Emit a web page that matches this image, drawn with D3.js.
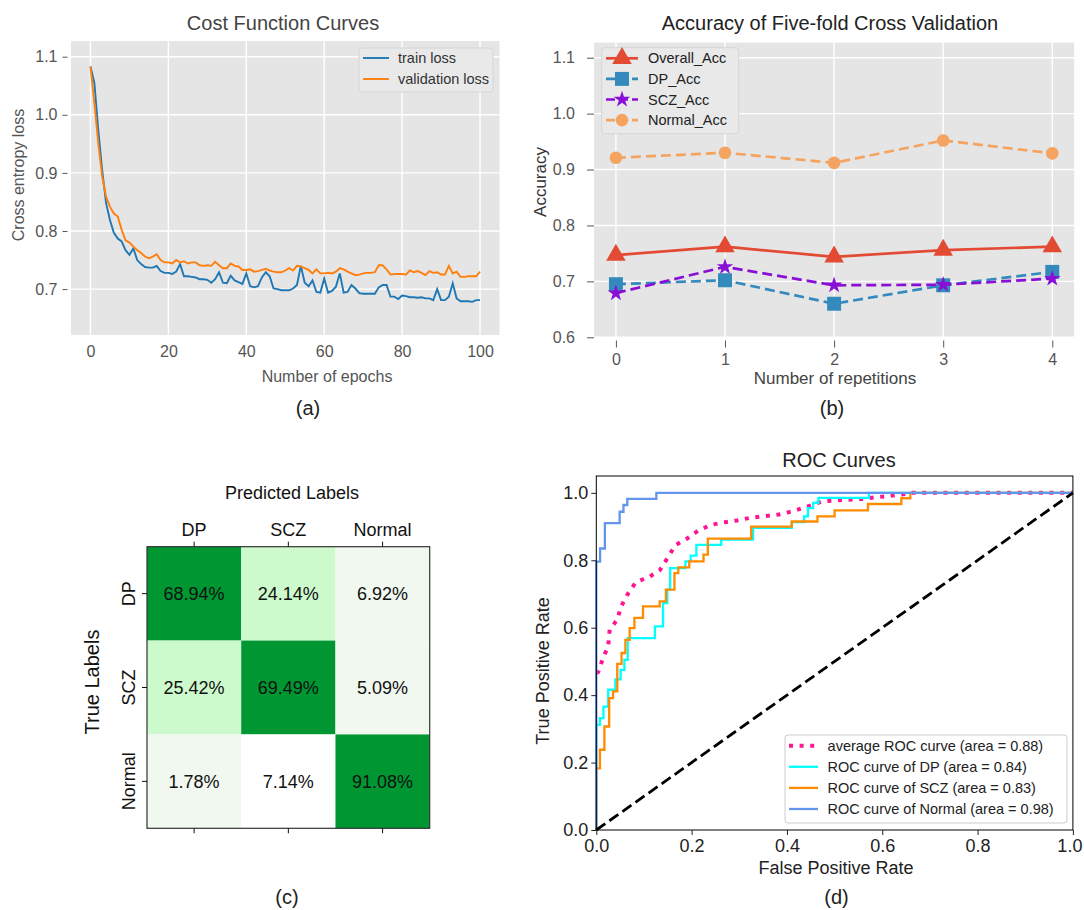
<!DOCTYPE html>
<html>
<head>
<meta charset="utf-8">
<script src="https://cdn.jsdelivr.net/npm/d3@7"></script>
<style>
  body { margin: 0; background: #fff; }
  svg text { font-family: "Liberation Sans", Arial, sans-serif; }
</style>
</head>
<body>
<svg id="fig" width="1084" height="910"></svg>
<script>
// ---------- data: (a) cost function curves
const epochTicks = [0, 20, 40, 60, 80, 100];
const lossTicks = [0.7, 0.8, 0.9, 1.0, 1.1];
const trainLoss = [
  1.083, 1.055, 0.974, 0.905, 0.848, 0.819, 0.797, 0.787, 0.782, 0.767,
  0.759, 0.770, 0.750, 0.743, 0.738, 0.737, 0.737, 0.740, 0.731, 0.728,
  0.728, 0.726, 0.730, 0.743, 0.722, 0.722, 0.721, 0.720, 0.717, 0.717,
  0.716, 0.711, 0.717, 0.729, 0.711, 0.710, 0.723, 0.715, 0.712, 0.709,
  0.727, 0.705, 0.703, 0.705, 0.720, 0.729, 0.722, 0.701, 0.700, 0.698,
  0.698, 0.698, 0.701, 0.707, 0.740, 0.711, 0.705, 0.715, 0.695, 0.694,
  0.718, 0.694, 0.697, 0.704, 0.727, 0.694, 0.695, 0.707, 0.701, 0.693,
  0.692, 0.692, 0.692, 0.692, 0.703, 0.707, 0.707, 0.687, 0.687, 0.683,
  0.689, 0.688, 0.686, 0.686, 0.685, 0.686, 0.684, 0.684, 0.681, 0.700,
  0.681, 0.681, 0.687, 0.710, 0.684, 0.679, 0.679, 0.679, 0.678, 0.681,
  0.681
];
const valLoss = [
  1.083, 1.020, 0.951, 0.894, 0.859, 0.842, 0.830, 0.825, 0.802, 0.784,
  0.780, 0.773, 0.767, 0.762, 0.756, 0.753, 0.756, 0.760, 0.750, 0.746,
  0.746, 0.744, 0.750, 0.746, 0.748, 0.744, 0.746, 0.746, 0.741, 0.740,
  0.741, 0.740, 0.747, 0.741, 0.736, 0.736, 0.744, 0.740, 0.739, 0.733,
  0.733, 0.734, 0.730, 0.731, 0.733, 0.735, 0.732, 0.730, 0.729, 0.729,
  0.732, 0.736, 0.732, 0.740, 0.739, 0.736, 0.733, 0.727, 0.734, 0.727,
  0.727, 0.728, 0.727, 0.730, 0.736, 0.734, 0.730, 0.727, 0.724, 0.725,
  0.727, 0.728, 0.728, 0.729, 0.741, 0.741, 0.734, 0.725, 0.726, 0.726,
  0.726, 0.725, 0.732, 0.729, 0.731, 0.728, 0.724, 0.731, 0.728, 0.729,
  0.725, 0.725, 0.740, 0.727, 0.730, 0.721, 0.721, 0.722, 0.722, 0.722,
  0.730
];

// ---------- data: (b) five-fold accuracy
const reps = [0, 1, 2, 3, 4];
const accTicks = [0.6, 0.7, 0.8, 0.9, 1.0, 1.1];
const overallAcc = [0.747, 0.762, 0.744, 0.756, 0.762];
const dpAcc = [0.695, 0.702, 0.660, 0.693, 0.717];
const sczAcc = [0.679, 0.726, 0.693, 0.694, 0.705];
const normalAcc = [0.921, 0.930, 0.912, 0.952, 0.929];

// ---------- data: (c) confusion matrix (rows = true, cols = predicted)
const cmLabels = ["DP", "SCZ", "Normal"];
const cmValues = [
  [68.94, 24.14, 6.92],
  [25.42, 69.49, 5.09],
  [1.78, 7.14, 91.08]
];

// ---------- data: (d) ROC curves
const rateTicks = [0, 0.2, 0.4, 0.6, 0.8, 1.0];
const avgFpr = [0, 0.004, 0.014, 0.025, 0.028, 0.044, 0.052, 0.066, 0.083, 0.11, 0.133, 0.15, 0.166, 0.19, 0.213, 0.24, 0.27, 0.295, 0.323, 0.383, 0.414, 0.444, 0.474, 0.557, 0.64, 0.663, 1];
const avgTpr = [0.465, 0.469, 0.509, 0.546, 0.594, 0.624, 0.663, 0.700, 0.735, 0.750, 0.770, 0.808, 0.845, 0.864, 0.887, 0.905, 0.913, 0.918, 0.926, 0.936, 0.946, 0.960, 0.975, 0.982, 0.995, 1.0, 1.0];
const dpFpr = [0, 0, 0.0076, 0.015, 0.025, 0.04, 0.051, 0.059, 0.066, 0.123, 0.14, 0.149, 0.155, 0.187, 0.198, 0.21, 0.262, 0.329, 0.41, 0.436, 0.444, 0.455, 0.466, 0.572, 1];
const dpTpr = [0, 0.312, 0.332, 0.366, 0.416, 0.447, 0.475, 0.505, 0.569, 0.604, 0.673, 0.713, 0.777, 0.797, 0.814, 0.846, 0.861, 0.896, 0.913, 0.93, 0.955, 0.97, 0.985, 1.0, 1.0];
const sczFpr = [0, 0, 0.0076, 0.017, 0.027, 0.035, 0.044, 0.053, 0.061, 0.07, 0.08, 0.098, 0.133, 0.146, 0.164, 0.172, 0.195, 0.225, 0.234, 0.325, 0.41, 0.464, 0.5, 0.57, 0.64, 0.659, 1];
const sczTpr = [0, 0.183, 0.238, 0.307, 0.391, 0.411, 0.493, 0.525, 0.564, 0.599, 0.629, 0.663, 0.678, 0.713, 0.762, 0.779, 0.797, 0.817, 0.864, 0.9, 0.915, 0.93, 0.948, 0.967, 0.984, 1.0, 1.0];
const normalFpr = [0, 0, 0.008, 0.018, 0.049, 0.057, 0.065, 0.126, 1];
const normalTpr = [0, 0.796, 0.835, 0.91, 0.944, 0.964, 0.982, 1.0, 1.0];

const svg = d3.select("#fig");

// grey ggplot-like panel with white grid
function ggPanel(g, x, y, xTicks, yTicks) {
  const [x0, x1] = x.range();
  const [y0, y1] = y.range();
  g.append("rect")
    .attr("x", x0).attr("y", y1)
    .attr("width", x1 - x0).attr("height", y0 - y1)
    .attr("fill", "#E5E5E5");
  g.selectAll(".vgrid").data(xTicks).enter().append("line")
    .attr("x1", d => x(d)).attr("x2", d => x(d))
    .attr("y1", y1).attr("y2", y0)
    .attr("stroke", "#fff").attr("stroke-width", 1.4);
  g.selectAll(".hgrid").data(yTicks).enter().append("line")
    .attr("x1", x0).attr("x2", x1)
    .attr("y1", d => y(d)).attr("y2", d => y(d))
    .attr("stroke", "#fff").attr("stroke-width", 1.4);
}

function styleAxis(sel, color, size) {
  sel.select(".domain").remove();
  sel.selectAll(".tick line").attr("stroke", color);
  sel.selectAll(".tick text")
    .attr("fill", color)
    .style("font-size", size + "px")
    .style("font-family", '"Liberation Sans", Arial, sans-serif');
}

function label(g, text, x, y, size, color, rotate) {
  return g.append("text")
    .attr("transform", `translate(${x},${y})` + (rotate ? " rotate(-90)" : ""))
    .attr("text-anchor", "middle")
    .attr("dy", "0.35em")
    .style("font-size", size + "px")
    .attr("fill", color)
    .text(text);
}

// ================= (a)
const xA = d3.scaleLinear().domain([-5, 105]).range([71, 499.5]);
const yA = d3.scaleLinear().domain([0.621, 1.127]).range([335, 41]);
const gA = svg.append("g");
ggPanel(gA, xA, yA, epochTicks, lossTicks);

const lineA = d3.line().x((d, i) => xA(i)).y(d => yA(d));
gA.append("path").datum(trainLoss).attr("d", lineA)
  .attr("fill", "none").attr("stroke", "#1f77b4").attr("stroke-width", 1.9);
gA.append("path").datum(valLoss).attr("d", lineA)
  .attr("fill", "none").attr("stroke", "#ff7f0e").attr("stroke-width", 1.9);

gA.append("g").attr("transform", "translate(67.5,0)")
  .call(d3.axisLeft(yA).tickValues(lossTicks).tickSize(5).tickPadding(5).tickFormat(d3.format(".1f")))
  .call(a => styleAxis(a, "#555", 16));
gA.append("g").attr("transform", "translate(0,335)")
  .call(d3.axisBottom(xA).tickValues(epochTicks).tickSize(0).tickPadding(11).tickFormat(d3.format("d")))
  .call(a => styleAxis(a, "#555", 16));

label(gA, "Cost Function Curves", 283, 23, 20, "#444");
label(gA, "Number of epochs", 327, 376, 16, "#555");
label(gA, "Cross entropy loss", 18, 175, 16, "#555", true);
label(gA, "(a)", 308, 408, 20, "#222");

const legA = gA.append("g");
legA.append("rect").attr("x", 359).attr("y", 48).attr("width", 134).attr("height", 44)
  .attr("rx", 3).attr("fill", "#E9E9E9").attr("stroke", "#D6D6D6");
[["train loss", "#1f77b4"], ["validation loss", "#ff7f0e"]].forEach(([name, c], i) => {
  const yy = 58 + i * 21;
  legA.append("line").attr("x1", 363).attr("x2", 389).attr("y1", yy).attr("y2", yy)
    .attr("stroke", c).attr("stroke-width", 1.9);
  legA.append("text").attr("x", 398).attr("y", yy).attr("dy", "0.35em")
    .style("font-size", "14.5px").attr("fill", "#333").text(name);
});

// ================= (b)
const xB = d3.scaleLinear().domain([-0.2, 4.2]).range([594.1, 1074.1]);
const yB = d3.scaleLinear().domain([0.6, 1.127]).range([337.3, 42.6]);
const gB = svg.append("g");
ggPanel(gB, xB, yB, reps, accTicks);

const accSeries = [
  { name: "Overall_Acc", values: overallAcc, color: "#E24A33", dash: null, sym: d3.symbolTriangle, size: 165 },
  { name: "DP_Acc", values: dpAcc, color: "#348ABD", dash: "10,5", sym: d3.symbolSquare, size: 195 },
  { name: "SCZ_Acc", values: sczAcc, color: "#8A0FD6", dash: "10,5", sym: d3.symbolStar, size: 85 },
  { name: "Normal_Acc", values: normalAcc, color: "#F4A460", dash: "10,5", sym: d3.symbolCircle, size: 125 }
];
const lineB = d3.line().x((d, i) => xB(reps[i])).y(d => yB(d));
accSeries.forEach(s => {
  gB.append("path").datum(s.values).attr("d", lineB)
    .attr("fill", "none").attr("stroke", s.color).attr("stroke-width", 2.7)
    .attr("stroke-dasharray", s.dash);
  gB.selectAll(null).data(s.values).enter().append("path")
    .attr("d", d3.symbol().type(s.sym).size(s.size))
    .attr("transform", (d, i) => `translate(${xB(reps[i])},${yB(d)})`)
    .attr("fill", s.color);
});

gB.append("g").attr("transform", "translate(594,0)")
  .call(d3.axisLeft(yB).tickValues(accTicks).tickSize(7).tickPadding(12).tickFormat(d3.format(".1f")))
  .call(a => styleAxis(a, "#555", 16));
gB.append("g").attr("transform", "translate(0,340.5)")
  .call(d3.axisBottom(xB).tickValues(reps).tickSize(7).tickPadding(6).tickFormat(d3.format("d")))
  .call(a => styleAxis(a, "#555", 16));

label(gB, "Accuracy of Five-fold Cross Validation", 830, 23, 20, "#222");
label(gB, "Number of repetitions", 835, 378, 17, "#444");
label(gB, "Accuracy", 540, 182, 17, "#333", true);
label(gB, "(b)", 832, 408, 20, "#222");

const legB = gB.append("g");
legB.append("rect").attr("x", 601.7).attr("y", 47.7).attr("width", 137).attr("height", 86)
  .attr("rx", 3).attr("fill", "#E9E9E9").attr("stroke", "#D6D6D6");
accSeries.forEach((s, i) => {
  const yy = 58.3 + i * 20.6;
  legB.append("line").attr("x1", 606).attr("x2", 638).attr("y1", yy).attr("y2", yy)
    .attr("stroke", s.color).attr("stroke-width", 2.7).attr("stroke-dasharray", s.dash ? "9,4" : null);
  legB.append("path").attr("d", d3.symbol().type(s.sym).size(s.size))
    .attr("transform", `translate(622,${yy})`).attr("fill", s.color);
  legB.append("text").attr("x", 648).attr("y", yy).attr("dy", "0.35em")
    .style("font-size", "14.5px").attr("fill", "#222").text(s.name);
});

// ================= (c)
const xC = d3.scaleBand().domain(cmLabels).range([147, 429.7]);
const yC = d3.scaleBand().domain(cmLabels).range([546.7, 828.3]);
const cmColor = d3.scaleThreshold().domain([7, 20, 50])
  .range(["#F0F8EF", "#FFFFFF", "#CDFACC", "#009632"]);
const gC = svg.append("g");
const cells = cmValues.flatMap((row, r) => row.map((v, c) => ({ r: cmLabels[r], c: cmLabels[c], v })));
gC.selectAll(".cell").data(cells).enter().append("rect")
  .attr("x", d => xC(d.c)).attr("y", d => yC(d.r))
  .attr("width", xC.bandwidth()).attr("height", yC.bandwidth())
  .attr("fill", d => cmColor(d.v));
gC.selectAll(".val").data(cells).enter().append("text")
  .attr("x", d => xC(d.c) + xC.bandwidth() / 2)
  .attr("y", d => yC(d.r) + yC.bandwidth() / 2)
  .attr("dy", "0.35em").attr("text-anchor", "middle")
  .style("font-size", "18px").attr("fill", "#111")
  .text(d => d.v.toFixed(2) + "%");
gC.append("rect").attr("x", 147).attr("y", 546.7).attr("width", 282.7).attr("height", 281.6)
  .attr("fill", "none").attr("stroke", "#333").attr("stroke-width", 1.2);

gC.append("g").attr("transform", "translate(0,546.7)")
  .call(d3.axisTop(xC).tickSize(5).tickPadding(6))
  .call(a => styleAxis(a, "#111", 18));
gC.append("g").attr("transform", "translate(0,828.3)")
  .call(d3.axisBottom(xC).tickSize(5).tickFormat(""))
  .call(a => styleAxis(a, "#111", 18));
gC.append("g").attr("transform", "translate(147,0)")
  .call(d3.axisLeft(yC).tickSize(5).tickFormat(""))
  .call(a => styleAxis(a, "#111", 18));
cmLabels.forEach(l => label(gC, l, 128.5, yC(l) + yC.bandwidth() / 2, 18, "#111", true));

label(gC, "Predicted Labels", 292, 493, 18, "#111");
label(gC, "True Labels", 92, 682, 20, "#111", true);
label(gC, "(c)", 287, 897, 20, "#222");

// ================= (d)
const xD = d3.scaleLinear().domain([0, 1]).range([596.3, 1072.9]);
const yD = d3.scaleLinear().domain([0, 1.05]).range([830, 476]);
const gD = svg.append("g");
const pairs = (xs, ys) => xs.map((v, i) => [v, ys[i]]);
const rocLine = d3.line().x(d => xD(d[0])).y(d => yD(d[1]));
const rocStep = d3.line().x(d => xD(d[0])).y(d => yD(d[1])).curve(d3.curveStepAfter);

const rocSeries = [
  { name: "average ROC curve (area = 0.88)", pts: pairs(avgFpr, avgTpr), gen: rocLine, color: "#FF1493", width: 4, dash: "4,6.6" },
  { name: "ROC curve of DP (area = 0.84)", pts: pairs(dpFpr, dpTpr), gen: rocStep, color: "#00FFFF", width: 2.3, dash: null },
  { name: "ROC curve of SCZ (area = 0.83)", pts: pairs(sczFpr, sczTpr), gen: rocStep, color: "#FF8C00", width: 2.3, dash: null },
  { name: "ROC curve of Normal (area = 0.98)", pts: pairs(normalFpr, normalTpr), gen: rocStep, color: "#6495ED", width: 2.3, dash: null }
];
rocSeries.forEach(s => {
  gD.append("path").datum(s.pts).attr("d", s.gen)
    .attr("fill", "none").attr("stroke", s.color).attr("stroke-width", s.width)
    .attr("stroke-dasharray", s.dash);
});
gD.append("path").datum([[0, 0], [1, 1]]).attr("d", rocLine)
  .attr("fill", "none").attr("stroke", "#000").attr("stroke-width", 2.8)
  .attr("stroke-dasharray", "11,5");

gD.append("rect").attr("x", 596.3).attr("y", 476).attr("width", 476.6).attr("height", 354)
  .attr("fill", "none").attr("stroke", "#000").attr("stroke-width", 1);
gD.append("g").attr("transform", "translate(596.3,0)")
  .call(d3.axisLeft(yD).tickValues(rateTicks).tickSize(5).tickPadding(3).tickFormat(d3.format(".1f")))
  .call(a => styleAxis(a, "#222", 18));
gD.append("g").attr("transform", "translate(0,830)")
  .call(d3.axisBottom(xD).tickValues(rateTicks).tickSize(5).tickPadding(4).tickFormat(d3.format(".1f")))
  .call(a => styleAxis(a, "#222", 18))
  // keep the last label inside the page edge
  .call(a => a.selectAll(".tick text").filter(d => d === 1).attr("text-anchor", "end").attr("dx", "9px"));

label(gD, "ROC Curves", 839, 460, 20, "#222");
label(gD, "False Positive Rate", 836, 868, 18, "#222");
label(gD, "True Positive Rate", 543, 671, 18, "#222", true);
label(gD, "(d)", 836.5, 897, 20, "#222");

const legD = gD.append("g");
legD.append("rect").attr("x", 785).attr("y", 735).attr("width", 282).attr("height", 88)
  .attr("rx", 3).attr("fill", "#fff").attr("stroke", "#CCC");
rocSeries.forEach((s, i) => {
  const yy = 745.7 + i * 21.1;
  legD.append("line").attr("x1", 789).attr("x2", 818).attr("y1", yy).attr("y2", yy)
    .attr("stroke", s.color).attr("stroke-width", s.width).attr("stroke-dasharray", s.dash);
  legD.append("text").attr("x", 827.6).attr("y", yy).attr("dy", "0.35em")
    .style("font-size", "14.5px").attr("fill", "#222").text(s.name);
});
</script>
</body>
</html>
